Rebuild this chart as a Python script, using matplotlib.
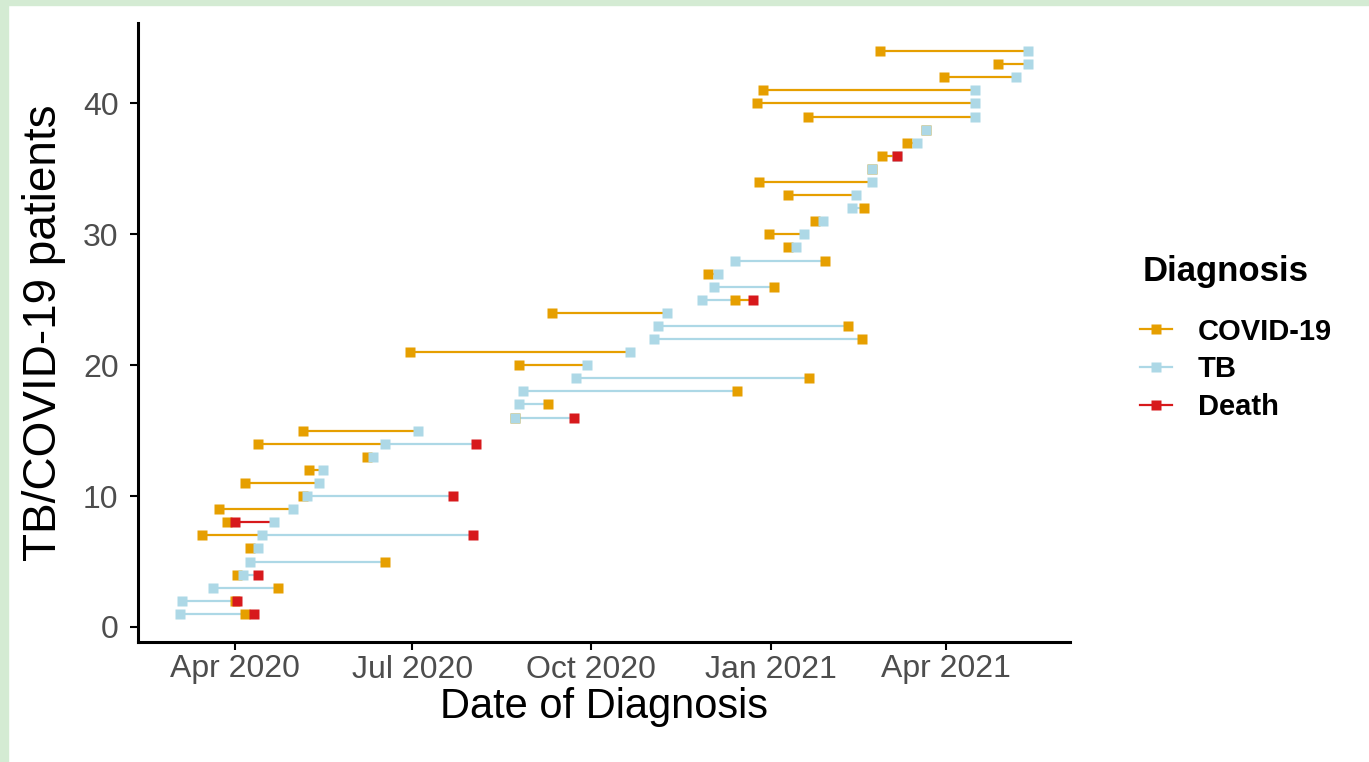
import matplotlib
matplotlib.use("Agg")
import matplotlib.pyplot as plt
import matplotlib.dates as mdates
from matplotlib.lines import Line2D
from matplotlib.patches import Rectangle
import pandas as pd

plt.rcParams['font.family'] = ['Liberation Sans', 'DejaVu Sans']

# --- data (patient 1..44) ---
patients = list(range(1, 45))

covid_dates = [
    "2020-04-06", "2020-04-01", "2020-04-23", "2020-04-02", "2020-06-17",
    "2020-04-09", "2020-03-15", "2020-03-28", "2020-03-24", "2020-05-06",
    "2020-04-06", "2020-05-09", "2020-06-08", "2020-04-13", "2020-05-06",
    "2020-08-23", "2020-09-09", "2020-12-15", "2021-01-21", "2020-08-25",
    "2020-06-30", "2021-02-17", "2021-02-10", "2020-09-11", "2020-12-14",
    "2021-01-03", "2020-11-30", "2021-01-29", "2021-01-10", "2020-12-31",
    "2021-01-24", "2021-02-18", "2021-01-10", "2020-12-26", "2021-02-22",
    "2021-02-27", "2021-03-12", "2021-03-22", "2021-01-20", "2020-12-25",
    "2020-12-28", "2021-03-31", "2021-04-28", "2021-02-26",
]

tb_dates = [
    "2020-03-04", "2020-03-05", "2020-03-21", "2020-04-05", "2020-04-09",
    "2020-04-13", "2020-04-15", "2020-04-21", "2020-05-01", "2020-05-08",
    "2020-05-14", "2020-05-16", "2020-06-11", "2020-06-17", "2020-07-04",
    "2020-08-23", "2020-08-25", "2020-08-27", "2020-09-23", "2020-09-29",
    "2020-10-21", "2020-11-02", "2020-11-04", "2020-11-09", "2020-11-27",
    "2020-12-03", "2020-12-05", "2020-12-14", "2021-01-14", "2021-01-18",
    "2021-01-28", "2021-02-12", "2021-02-14", "2021-02-22", "2021-02-22",
    "2021-03-07", "2021-03-17", "2021-03-22", "2021-04-16", "2021-04-16",
    "2021-04-16", "2021-05-07", "2021-05-13", "2021-05-13",
]

death_patients = [1, 2, 4, 7, 8, 10, 14, 16, 25, 36]
death_dates = [
    "2020-04-11", "2020-04-02", "2020-04-13", "2020-08-01", "2020-04-01",
    "2020-07-22", "2020-08-03", "2020-09-22", "2020-12-23", "2021-03-07",
]

labels = ["COVID-19", "TB", "Death"]
colors = {"COVID-19": "#E69F00", "TB": "#ADD8E6", "Death": "#D7191C"}

# long table
rows = []
for p, d in zip(patients, covid_dates):
    rows.append((p, pd.Timestamp(d), "COVID-19"))
for p, d in zip(patients, tb_dates):
    rows.append((p, pd.Timestamp(d), "TB"))
for p, d in zip(death_patients, death_dates):
    rows.append((p, pd.Timestamp(d), "Death"))
df = pd.DataFrame(rows, columns=["patient", "date", "diagnosis"])

W, H = 1369, 762
fig = plt.figure(figsize=(W / 100, H / 100), dpi=100)
fig.patch.set_facecolor("white")
# light green frame on the left and top
fig.patches.append(Rectangle((0, 0), 8 / W, 1, transform=fig.transFigure,
                             color="#D4EBD3", zorder=-10))
fig.patches.append(Rectangle((0, 1 - 5 / H), 1, 5 / H, transform=fig.transFigure,
                             color="#D4EBD3", zorder=-10))

ax = fig.add_axes([138 / W, 1 - 642 / H, (1070 - 138) / W, (642 - 23) / H])

# segments: each takes the colour of its starting point (ggplot geom_line)
for p, g in df.groupby("patient"):
    g = g.sort_values("date", kind="stable")
    ds = list(g["date"])
    cs = list(g["diagnosis"])
    for i in range(len(ds) - 1):
        ax.plot([ds[i], ds[i + 1]], [p, p], color=colors[cs[i]], lw=1.6,
                solid_capstyle="butt", zorder=2)

for lab in labels:
    sub = df[df["diagnosis"] == lab]
    ax.plot(sub["date"], sub["patient"], ls="none", marker="s", ms=7.2,
            color=colors[lab], mec="none", zorder=3)

ax.margins(x=0.05, y=0.05)
ax.set_yticks([0, 10, 20, 30, 40])
ax.xaxis.set_major_locator(mdates.MonthLocator(bymonth=[1, 4, 7, 10]))
ax.xaxis.set_major_formatter(mdates.DateFormatter("%b %Y"))

for s in ["top", "right"]:
    ax.spines[s].set_visible(False)
for s in ["left", "bottom"]:
    ax.spines[s].set_linewidth(2.2)
    ax.spines[s].set_color("black")
ax.tick_params(axis="both", length=6, width=1.5, colors="black",
               labelcolor="#4D4D4D", labelsize=23)
ax.tick_params(axis="x", pad=3)
ax.tick_params(axis="y", pad=8)

ax.set_xlabel("Date of Diagnosis", fontsize=30, labelpad=2)
ax.set_ylabel("TB/COVID-19 patients", fontsize=33, labelpad=12)

# legend: title as separate text, entries below
fig.text(1143 / W, 1 - 272 / H, "Diagnosis", fontsize=25, fontweight="bold",
         ha="left", va="center")
handles = [Line2D([0], [0], color=colors[l], lw=1.6, marker="s", ms=7.2, mec="none")
           for l in labels]
leg = fig.legend(handles, labels, loc="upper left",
                 bbox_to_anchor=(1128 / W, 1 - 306 / H), frameon=False,
                 prop={"weight": "bold", "size": 21}, borderaxespad=0,
                 handlelength=1.1, handletextpad=0.9, labelspacing=0.33)

fig.savefig("out.png", dpi=100)
